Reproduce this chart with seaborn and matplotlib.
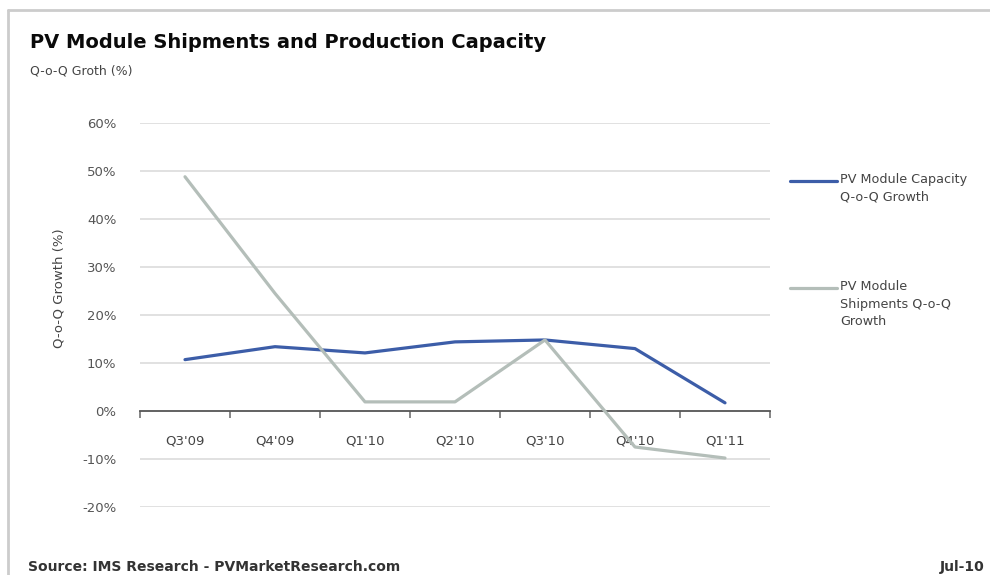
import numpy as np
import pandas as pd
import matplotlib
matplotlib.use("Agg")
import matplotlib.pyplot as plt
from matplotlib.lines import Line2D
from matplotlib.ticker import PercentFormatter
import seaborn as sns

quarters = ["Q3'09", "Q4'09", "Q1'10", "Q2'10", "Q3'10", "Q4'10", "Q1'11"]
capacity_growth = [10.7, 13.4, 12.1, 14.4, 14.8, 13.0, 1.7]
shipments_growth = [48.8, 24.5, 1.9, 1.9, 14.8, -7.5, -9.8]
series_names = ["PV Module Capacity\nQ-o-Q Growth", "PV Module\nShipments Q-o-Q\nGrowth"]
y_ticks = [-20, -10, 0, 10, 20, 30, 40, 50, 60]

colors = {series_names[0]: "#3C5DA8", series_names[1]: "#B4BEB9"}

df = pd.DataFrame({
    "quarter": quarters * 2,
    "growth": capacity_growth + shipments_growth,
    "series": [series_names[0]] * len(quarters) + [series_names[1]] * len(quarters),
})

sns.set_theme(style="white")
plt.rcParams["font.family"] = ["DejaVu Sans"]
plt.rcParams["axes.unicode_minus"] = False

fig = plt.figure(figsize=(9.9, 5.75), dpi=100)
W, H = 990, 575
ax = fig.add_axes([140 / W, (H - 507) / H, 630 / W, 384 / H])

sns.lineplot(data=df, x="quarter", y="growth", hue="series", palette=colors,
             sort=False, legend=False, linewidth=2.3, ax=ax)

ax.set_xlim(-0.5, len(quarters) - 0.5)
ax.set_ylim(-20, 60)
ax.set_yticks(y_ticks)
ax.yaxis.set_major_formatter(PercentFormatter(decimals=0))
ax.set_xticks(range(len(quarters)))
ax.set_xticklabels(quarters)
ax.set_xticks(np.arange(-0.5, len(quarters), 1), minor=True)

for y in y_ticks:
    if y != 0:
        ax.axhline(y, color="#dcdcdc", lw=1.2, zorder=0)

for s in ["top", "right", "left"]:
    ax.spines[s].set_visible(False)
ax.spines["bottom"].set_position(("data", 0))
ax.spines["bottom"].set_color("#555555")
ax.spines["bottom"].set_linewidth(1.3)
ax.spines["bottom"].set_zorder(1)

ax.tick_params(axis="x", which="major", length=0, pad=17, labelsize=9.5, labelcolor="#444444")
ax.tick_params(axis="x", which="minor", length=5, width=1.1, color="#666666", direction="out", bottom=True)
ax.tick_params(axis="y", length=0, pad=17, labelsize=9.5, labelcolor="#555555")

ax.set_xlabel("")
ax.set_ylabel("Q-o-Q Growth (%)", fontsize=9.5, color="#444444")
ax.yaxis.set_label_coords((65 - 140) / 630, (507 - 288) / 384)

# frame
fig.add_artist(Line2D([8 / W, 1], [1 - 10 / H, 1 - 10 / H], color="#cccccc", lw=2))
fig.add_artist(Line2D([8 / W, 8 / W], [0, 1 - 10 / H], color="#cccccc", lw=2))

# titles
fig.text(30 / W, 1 - 48 / H, "PV Module Shipments and Production Capacity",
         fontsize=14, fontweight="bold", color="#0a0a0a", va="baseline", ha="left")
fig.text(30 / W, 1 - 74 / H, "Q-o-Q Groth (%)", fontsize=9, color="#444444",
         va="baseline", ha="left")
fig.text(28 / W, 1 - 571 / H, "Source: IMS Research - PVMarketResearch.com",
         fontsize=10, fontweight="bold", color="#333333", va="baseline", ha="left")
fig.text(985 / W, 1 - 571 / H, "Jul-10", fontsize=10, fontweight="bold",
         color="#333333", va="baseline", ha="right")

# legend (manual)
for name, yc in zip(series_names, [181, 288]):
    fig.add_artist(Line2D([790 / W, 837 / W], [1 - yc / H, 1 - yc / H],
                          color=colors[name], lw=2.3))
    fig.text(840 / W, 1 - (yc - 8) / H, name, fontsize=9.2, color="#444444",
             va="top", ha="left", linespacing=1.45)

fig.savefig("out.png", dpi=100, facecolor="white")
